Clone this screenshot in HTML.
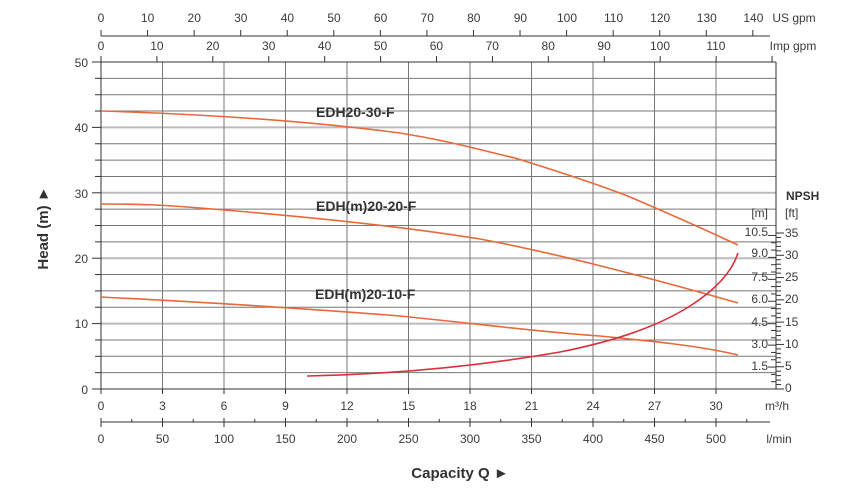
<!DOCTYPE html>
<html><head><meta charset="utf-8"><style>
html,body{margin:0;padding:0;background:#fff;}
svg{display:block;font-family:"Liberation Sans",sans-serif;}
.t{font-size:12px;fill:#3a3a3a;}
.b{font-size:14px;font-weight:bold;fill:#333;}
</style></head><body>
<svg id="s" width="845" height="491" viewBox="0 0 845 491" xmlns="http://www.w3.org/2000/svg">
<g id="grid"></g>
<g id="ticks" stroke="#333" stroke-width="1"></g>
<g class="t" text-anchor="middle">
<text x="101" y="22">0</text><text x="147.6" y="22">10</text><text x="194.2" y="22">20</text><text x="240.8" y="22">30</text><text x="287.4" y="22">40</text><text x="334" y="22">50</text><text x="380.6" y="22">60</text><text x="427.2" y="22">70</text><text x="473.8" y="22">80</text><text x="520.4" y="22">90</text><text x="567" y="22">100</text><text x="613.6" y="22">110</text><text x="660.2" y="22">120</text><text x="706.8" y="22">130</text><text x="753.4" y="22">140</text>
<text x="794" y="22">US gpm</text>
<text x="101" y="50">0</text><text x="156.9" y="50">10</text><text x="212.8" y="50">20</text><text x="268.7" y="50">30</text><text x="324.6" y="50">40</text><text x="380.5" y="50">50</text><text x="436.4" y="50">60</text><text x="492.3" y="50">70</text><text x="548.2" y="50">80</text><text x="604.1" y="50">90</text><text x="660" y="50">100</text><text x="715.9" y="50">110</text>
<text x="793" y="50">Imp gpm</text>
<text x="101" y="410">0</text><text x="162.5" y="410">3</text><text x="224" y="410">6</text><text x="285.5" y="410">9</text><text x="347" y="410">12</text><text x="408.5" y="410">15</text><text x="470" y="410">18</text><text x="531.5" y="410">21</text><text x="593" y="410">24</text><text x="654.5" y="410">27</text><text x="716" y="410">30</text>
<text x="777" y="410">m³/h</text>
<text x="101" y="443">0</text><text x="162.5" y="443">50</text><text x="224" y="443">100</text><text x="285.5" y="443">150</text><text x="347" y="443">200</text><text x="408.5" y="443">250</text><text x="470" y="443">300</text><text x="531.5" y="443">350</text><text x="593" y="443">400</text><text x="654.5" y="443">450</text><text x="716" y="443">500</text>
<text x="779" y="443">l/min</text>
</g>
<g class="t" text-anchor="end">
<text x="88" y="67">50</text><text x="88" y="132">40</text><text x="88" y="198">30</text><text x="88" y="263">20</text><text x="88" y="328">10</text><text x="88" y="394">0</text>
<text x="768" y="236">10.5</text><text x="768" y="257">9.0</text><text x="768" y="281">7.5</text><text x="768" y="303">6.0</text><text x="768" y="326">4.5</text><text x="768" y="348">3.0</text><text x="768" y="370">1.5</text>
<text x="768" y="217">[m]</text>
</g>
<g class="t">
<text x="785" y="217">[ft]</text>
<text x="785" y="237">35</text><text x="785" y="259">30</text><text x="785" y="281">25</text><text x="785" y="303">20</text><text x="785" y="326">15</text><text x="785" y="348">10</text><text x="785" y="370">5</text><text x="785" y="392">0</text>
</g>
<text class="b" x="786" y="200" style="font-size:12px">NPSH</text>
<g fill="none" stroke="#e8683a" stroke-width="1.6">
<path d="M101,111 C200,114 300,120 400,133 C450,141 480,150 515,158 C560,172 600,185 630,197 C670,214 710,232 738,245"/>
<path d="M101,204 C140,204 165,205 200,208 C300,216 400,226 480,239 C560,254 650,278 738,303"/>
<path d="M101,297 C200,302 300,308 400,316 C480,324 540,332 600,336 C660,342 700,346 738,355"/>
</g>
<path d="M307,376 C400,374 480,366 560,352 C620,340 660,325 690,306 C715,290 732,272 738,253" fill="none" stroke="#d9303a" stroke-width="1.6"/>
<text class="b" x="316" y="117">EDH20-30-F</text>
<text class="b" x="316" y="211">EDH(m)20-20-F</text>
<text class="b" x="315" y="299">EDH(m)20-10-F</text>
<text class="b" x="48" y="228" text-anchor="middle" transform="rotate(-90 48 228)" style="font-size:15px">Head (m)  ►</text>
<text class="b" x="460" y="478" text-anchor="middle" style="font-size:15px">Capacity Q  ►</text>
</svg>
<script>
var NS="http://www.w3.org/2000/svg";
function L(g,x1,y1,x2,y2,c,w){var l=document.createElementNS(NS,"line");l.setAttribute("x1",x1);l.setAttribute("y1",y1);l.setAttribute("x2",x2);l.setAttribute("y2",y2);if(c)l.setAttribute("stroke",c);if(w)l.setAttribute("stroke-width",w);document.getElementById(g).appendChild(l);}
var X0=101,PX=20.5,Y0=389,PY=6.54;
for(var i=1;i<20;i++){var y=Y0-i*2.5*PY;var maj=(i%4==0);L("grid",X0,y,776,y,maj?"#bbb":"#777",maj?2:1);}
for(var i=1;i<=10;i++){var x=X0+i*3*PX;L("grid",x,62,x,389,"#777",1);}
L("ticks",776,62,776,389);
L("ticks",X0,62,X0,389);
L("ticks",92,389,776,389);
for(var i=0;i<=20;i++){var y=Y0-i*2.5*PY;L("ticks",(i%4==0)?92:95,y,X0,y);}
for(var i=0;i<=10;i++){var x=X0+i*3*PX;L("ticks",x,389,x,394);}
L("ticks",X0,422,770,422);
for(var i=0;i<=21;i++){var x=X0+i*1.5*PX;L("ticks",x,(i%2==0)?418:419,x,(i%2==0)?427:422);}
var g1=PX/4.403;L("ticks",X0,36,770,36);
for(var i=0;i<=140;i+=10){var x=X0+i*g1;L("ticks",x,30,x,36);}
var g2=PX/3.666;L("ticks",X0,62,776,62);
for(var i=0;i<=120;i+=10){var x=X0+i*g2;if(x<776)L("ticks",x,56,x,62);}
var fy=(389-233)/35;
for(var f=0;f<=35;f++){var y=389-f*fy;L("ticks",776,y,f%5==0?784:781,y);}
for(var m=0;m<=10.5;m+=0.5){var y=389-m*3.2808*fy;L("ticks",m%1.5==0?768:771,y,776,y);}
</script>
</body></html>
